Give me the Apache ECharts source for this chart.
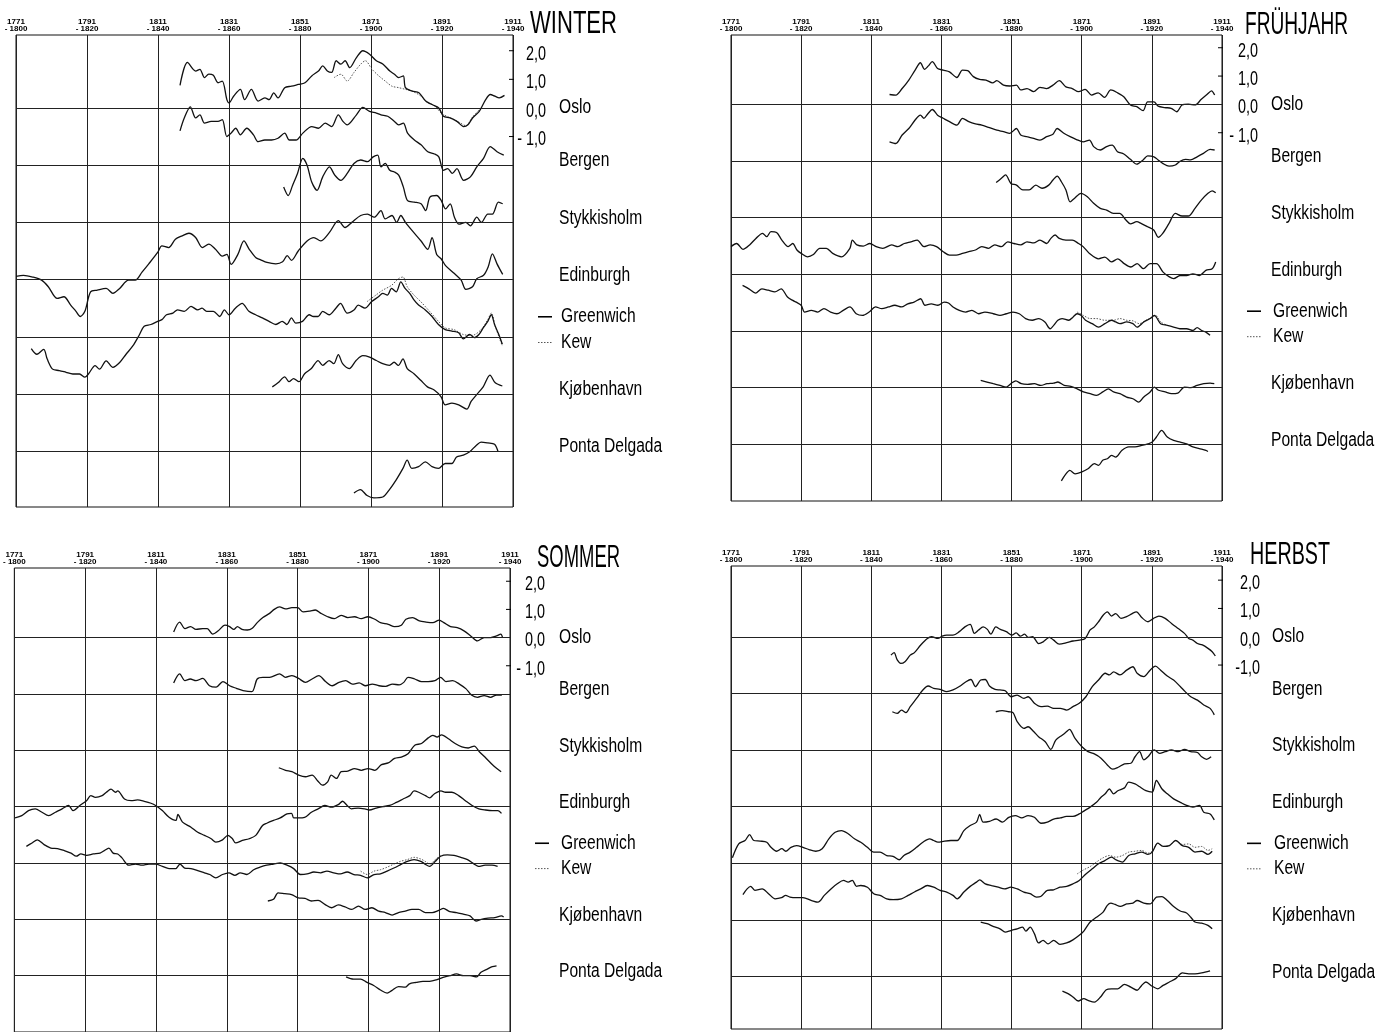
<!DOCTYPE html>
<html><head><meta charset="utf-8">
<script src="https://cdn.jsdelivr.net/npm/echarts@6/dist/echarts.min.js"></script>
<style>html,body{margin:0;padding:0;background:#fff}#c{width:1375px;height:1032px}</style>
</head><body><div id="c"></div>
<script>
// ---------- axis / labels ----------
const periodStarts = [1771, 1791, 1811, 1831, 1851, 1871, 1891, 1911];
const periodLen = 29;
const seasonTitles = ['WINTER', 'FRÜHJAHR', 'SOMMER', 'HERBST'];
const stationNames = ['Oslo', 'Bergen', 'Stykkisholm', 'Edinburgh', 'Greenwich', 'Kew', 'Kjøbenhavn', 'Ponta Delgada'];
const stationOffsets = [0, -2, -4, -6, -8, -8, -10, -12];   // baseline of each station (°C shift)
const baselineValues = [0, -2, -4, -6, -8, -10, -12];
const scaleTicks = [2, 1, 0, -1];

// ---------- WINTER ----------
const winterOslo = [[1817.2,0.79],[1819.3,1.59],[1821.6,1.29],[1822.8,1.35],[1824.1,1.06],[1825.3,1.18],[1826.6,1.14],[1827.9,0.88],[1829.1,0.94],[1830.4,0.29],[1831.0,0.18],[1832.3,0.41],[1834.2,0.65],[1835.4,0.29],[1837.3,0.65],[1839.2,0.24],[1841.1,0.35],[1842.3,0.29],[1843.6,0.53],[1844.8,0.35],[1846.7,0.71],[1848.6,0.76],[1850.5,0.82],[1852.4,0.88],[1854.3,1.12],[1856.2,1.29],[1857.4,1.47],[1858.7,1.29],[1859.9,1.24],[1861.2,1.65],[1862.5,1.53],[1863.7,1.65],[1865.0,1.41],[1866.9,1.76],[1868.7,2.0],[1870.6,1.88],[1872.5,1.65],[1874.4,1.53],[1876.3,1.29],[1877.6,1.18],[1878.8,1.06],[1880.1,1.12],[1880.7,0.71],[1882.6,0.59],[1884.5,0.53],[1886.4,0.24],[1888.2,0.12],[1890.1,0.0],[1891.4,-0.29],[1893.3,-0.35],[1895.2,-0.47],[1897.1,-0.65],[1898.3,-0.59],[1899.6,-0.35],[1901.5,-0.12],[1903.3,0.29],[1904.6,0.47],[1905.9,0.41],[1907.1,0.35],[1908.6,0.44]];
const winterOsloDotted = [[1860.6,1.06],[1862.5,1.18],[1864.3,0.94],[1866.2,1.24],[1868.1,1.53],[1869.4,1.65],[1871.3,1.35],[1873.2,1.12],[1875.0,0.94],[1876.9,0.76],[1878.8,0.71],[1880.7,0.65],[1882.6,0.59],[1885.1,0.41],[1887.0,0.18],[1888.9,0.08],[1890.8,-0.18],[1893.3,-0.35],[1895.8,-0.5],[1897.7,-0.62],[1899.6,-0.32],[1901.5,-0.06]];
const winterBergen = [[1817.2,1.2],[1818.4,1.65],[1820.1,2.04],[1821.6,1.65],[1822.8,1.76],[1824.1,1.47],[1826.0,1.53],[1827.9,1.53],[1829.1,1.59],[1830.4,1.0],[1831.6,1.12],[1832.9,1.29],[1834.2,1.06],[1836.0,1.29],[1837.9,1.06],[1839.2,0.82],[1841.1,0.88],[1843.0,0.88],[1844.8,0.94],[1846.7,1.12],[1848.0,0.88],[1849.9,0.88],[1851.8,1.12],[1854.3,1.35],[1856.2,1.29],[1858.1,1.47],[1859.9,1.35],[1861.8,1.76],[1863.1,1.53],[1864.3,1.41],[1866.9,1.76],[1868.7,2.02],[1870.6,1.88],[1872.5,1.82],[1873.8,1.76],[1875.7,1.71],[1877.6,1.53],[1878.8,1.41],[1880.1,1.47],[1881.3,1.12],[1883.2,0.88],[1885.1,0.71],[1887.0,0.47],[1888.9,0.39],[1890.1,0.29],[1891.4,-0.18],[1892.6,-0.12],[1893.9,-0.29],[1895.2,-0.12],[1897.1,-0.53],[1899.0,-0.41],[1900.8,-0.06],[1902.7,0.24],[1904.6,0.65],[1906.5,0.47],[1908.4,0.35]];
const winterStykkisholm = [[1846.4,1.24],[1847.7,0.94],[1848.9,1.29],[1850.3,1.71],[1851.8,2.24],[1853.0,2.0],[1854.3,1.41],[1855.8,1.12],[1857.4,1.59],[1859.3,1.94],[1860.8,1.65],[1862.5,1.47],[1864.3,1.71],[1866.2,2.06],[1868.1,2.18],[1870.0,2.12],[1871.6,2.29],[1872.9,2.35],[1873.8,1.94],[1875.0,2.06],[1876.3,1.82],[1877.6,1.76],[1878.8,1.65],[1880.1,1.24],[1881.3,0.76],[1883.2,0.71],[1885.1,0.65],[1886.4,0.41],[1887.6,0.88],[1889.5,0.94],[1890.8,0.76],[1892.0,0.47],[1893.3,0.65],[1894.5,0.18],[1895.8,-0.06],[1897.7,0.0],[1899.0,-0.12],[1900.8,0.18],[1902.1,0.0],[1903.9,0.29],[1905.2,0.29],[1906.9,0.71],[1908.1,0.65]];
const winterEdinburgh = [[1771.0,0.11],[1773.1,0.15],[1775.7,0.09],[1778.2,-0.02],[1780.1,-0.25],[1782.6,-0.66],[1784.5,-0.6],[1786.4,-0.89],[1787.9,-1.11],[1789.1,-1.29],[1790.4,-1.11],[1792.0,-0.43],[1793.9,-0.37],[1796.4,-0.31],[1798.3,-0.48],[1800.2,-0.31],[1802.7,-0.02],[1804.6,-0.02],[1806.5,0.26],[1808.4,0.55],[1810.9,0.95],[1812.1,1.18],[1814.0,1.12],[1815.9,1.41],[1817.8,1.53],[1819.7,1.62],[1821.6,1.47],[1823.5,1.12],[1825.3,1.24],[1827.2,1.06],[1829.1,0.82],[1830.4,0.88],[1831.6,0.53],[1833.5,0.88],[1835.2,1.35],[1836.7,1.06],[1838.6,0.76],[1839.8,0.7],[1841.7,0.6],[1844.2,0.55],[1846.1,0.62],[1847.4,0.84],[1848.6,0.67],[1850.5,1.0],[1853.0,1.35],[1854.9,1.47],[1856.8,1.35],[1859.3,1.65],[1861.8,2.06],[1863.7,1.82],[1865.6,2.0],[1868.1,2.24],[1870.0,2.29],[1871.9,2.18],[1873.8,2.41],[1875.0,2.12],[1876.9,2.24],[1878.2,2.0],[1879.4,2.24],[1880.7,2.0],[1882.6,1.71],[1885.1,1.35],[1887.0,1.06],[1888.2,1.47],[1889.5,0.88],[1890.8,0.72],[1892.0,0.49],[1894.5,0.21],[1896.4,-0.02],[1897.7,-0.34],[1899.6,-0.25],[1900.8,0.03],[1902.7,0.15],[1904.0,0.44],[1905.2,0.9],[1906.5,0.55],[1908.1,0.18]];
const winterGreenwich = [[1775.3,-0.41],[1776.9,-0.61],[1778.8,-0.44],[1779.8,-0.78],[1781.3,-1.13],[1783.2,-1.18],[1785.1,-1.24],[1787.0,-1.3],[1788.9,-1.3],[1790.4,-1.41],[1791.4,-1.3],[1793.3,-1.01],[1794.5,-1.13],[1796.4,-0.84],[1798.3,-1.07],[1800.2,-0.9],[1802.0,-0.61],[1803.9,-0.32],[1805.8,0.08],[1807.1,0.37],[1809.0,0.43],[1810.9,0.54],[1812.1,0.6],[1813.4,0.77],[1815.2,0.83],[1816.5,0.94],[1818.4,0.89],[1820.3,1.06],[1822.2,0.94],[1823.4,1.0],[1824.7,0.89],[1826.6,0.89],[1828.4,0.71],[1829.7,0.94],[1831.0,0.77],[1832.8,1.0],[1834.7,1.17],[1836.6,0.89],[1838.5,0.77],[1840.4,0.66],[1842.3,0.54],[1844.2,0.43],[1846.0,0.54],[1847.3,0.43],[1848.6,0.66],[1849.8,0.48],[1851.7,0.54],[1853.6,0.77],[1854.8,0.71],[1856.1,0.71],[1857.4,0.89],[1859.2,0.77],[1861.1,1.0],[1862.4,1.17],[1864.3,0.83],[1866.2,0.94],[1867.4,1.11],[1869.3,1.0],[1871.2,1.23],[1873.1,1.4],[1874.3,1.52],[1875.6,1.46],[1876.8,1.69],[1878.1,1.57],[1879.4,1.92],[1880.6,1.69],[1881.9,1.52],[1883.1,1.29],[1884.4,1.11],[1886.3,0.94],[1888.2,0.71],[1890.0,0.43],[1891.9,0.25],[1893.8,0.2],[1895.7,0.14],[1897.0,-0.07],[1898.8,0.08],[1900.1,-0.03],[1901.4,0.08],[1902.6,0.31],[1903.9,0.54],[1904.9,0.77],[1905.8,0.43],[1907.0,0.08],[1908.0,-0.26]];
const winterKew = [[1869.9,1.23],[1872.4,1.46],[1874.3,1.63],[1876.8,1.8],[1878.7,2.03],[1880.0,2.09],[1881.2,1.75],[1883.1,1.46],[1885.0,1.23],[1887.5,0.89],[1890.0,0.54],[1891.9,0.31],[1894.4,0.25],[1897.0,0.08],[1899.5,0.05],[1902.0,0.25],[1903.9,0.6],[1904.9,0.83],[1906.0,0.37],[1907.3,-0.09],[1908.0,-0.32]];
const winterKjobenhavn = [[1843.2,0.25],[1844.8,0.39],[1846.7,0.6],[1847.9,0.43],[1849.2,0.54],[1850.7,0.43],[1852.3,0.71],[1854.2,0.89],[1856.1,1.17],[1857.4,1.0],[1859.2,1.17],[1860.5,1.06],[1861.8,1.38],[1863.0,1.06],[1864.9,0.89],[1866.8,1.17],[1868.7,1.34],[1870.6,1.29],[1872.5,1.17],[1874.3,1.06],[1876.2,1.0],[1877.5,1.11],[1878.7,1.0],[1880.0,1.23],[1881.2,0.89],[1883.1,0.71],[1885.0,0.48],[1886.9,0.25],[1888.8,0.14],[1890.7,-0.09],[1891.9,-0.38],[1893.8,-0.32],[1895.7,-0.38],[1898.0,-0.53],[1899.2,-0.26],[1900.7,-0.03],[1902.6,0.25],[1904.5,0.66],[1906.0,0.39],[1908.0,0.28]];
const winterPontaDelgada = [[1866.2,-1.46],[1868.0,-1.34],[1869.9,-1.55],[1871.8,-1.63],[1874.3,-1.6],[1876.2,-1.34],[1878.1,-1.0],[1880.0,-0.6],[1881.2,-0.31],[1882.5,-0.6],[1884.4,-0.54],[1886.3,-0.37],[1888.2,-0.54],[1890.0,-0.6],[1891.9,-0.43],[1893.8,-0.43],[1895.1,-0.2],[1897.0,-0.14],[1898.8,-0.02],[1900.7,0.21],[1902.0,0.32],[1903.9,0.29],[1905.8,0.24],[1906.8,-0.02]];

// ---------- FRÜHJAHR ----------
const springOslo = [[1816.2,0.35],[1818.0,0.33],[1819.8,0.56],[1821.7,0.86],[1823.5,1.21],[1825.0,1.47],[1826.2,1.24],[1827.2,1.35],[1828.4,1.51],[1829.9,1.27],[1831.5,1.21],[1833.3,1.15],[1835.4,0.95],[1837.0,1.21],[1838.5,1.19],[1840.1,0.98],[1841.9,0.88],[1843.7,0.86],[1845.6,0.76],[1846.8,0.84],[1848.7,0.68],[1850.5,0.65],[1852.4,0.68],[1853.6,0.51],[1855.4,0.56],[1857.3,0.45],[1859.1,0.6],[1861.0,0.56],[1862.8,0.68],[1864.6,0.84],[1866.5,0.62],[1868.3,0.56],[1870.1,0.45],[1872.0,0.53],[1873.8,0.33],[1875.7,0.41],[1877.5,0.25],[1879.3,0.51],[1881.2,0.41],[1883.0,0.27],[1884.9,-0.02],[1886.7,-0.08],[1888.5,-0.22],[1889.8,0.09],[1891.6,0.09],[1892.8,-0.06],[1894.7,-0.11],[1896.5,-0.14],[1898.1,-0.26],[1899.6,-0.02],[1901.4,0.01],[1903.3,-0.02],[1905.1,0.18],[1906.7,0.35],[1908.0,0.48],[1908.9,0.33]];
const springBergen = [[1816.2,0.68],[1818.0,0.62],[1819.8,0.92],[1821.7,1.15],[1823.5,1.45],[1825.0,1.62],[1826.0,1.51],[1827.2,1.68],[1828.4,1.82],[1829.9,1.62],[1831.5,1.51],[1833.3,1.39],[1835.4,1.27],[1837.0,1.51],[1838.8,1.39],[1840.7,1.31],[1842.5,1.27],[1844.4,1.19],[1846.8,1.09],[1848.7,1.04],[1850.5,0.98],[1852.4,1.15],[1853.6,0.92],[1855.4,0.86],[1857.3,0.8],[1859.1,0.74],[1861.0,0.86],[1862.8,0.95],[1864.0,1.15],[1865.9,0.98],[1867.7,0.86],[1869.5,0.76],[1871.4,0.68],[1873.2,0.74],[1874.4,0.51],[1876.3,0.39],[1878.1,0.51],[1879.7,0.56],[1881.2,0.33],[1883.0,0.25],[1884.9,0.06],[1886.7,-0.11],[1888.5,0.04],[1889.8,0.18],[1891.6,0.15],[1892.8,0.04],[1894.1,-0.08],[1895.9,-0.18],[1897.7,-0.14],[1898.9,-0.02],[1900.6,0.06],[1902.0,0.04],[1903.9,0.15],[1905.7,0.27],[1907.6,0.41],[1908.9,0.39]];
const springStykkisholm = [[1846.6,1.24],[1848.1,1.39],[1849.3,1.51],[1850.8,1.21],[1852.4,1.15],[1854.2,0.98],[1856.0,0.98],[1857.9,1.15],[1859.7,1.04],[1861.6,1.15],[1862.8,1.33],[1864.0,1.47],[1865.2,1.27],[1866.5,0.98],[1867.7,0.56],[1868.9,0.68],[1870.8,0.86],[1872.6,0.74],[1874.4,0.51],[1876.3,0.33],[1878.1,0.27],[1880.0,0.15],[1881.8,0.15],[1883.6,-0.08],[1884.9,-0.22],[1886.7,-0.14],[1887.9,-0.2],[1889.8,-0.32],[1891.6,-0.44],[1892.8,-0.69],[1894.1,-0.55],[1895.9,-0.2],[1897.7,0.15],[1899.6,0.06],[1901.4,0.06],[1903.3,0.33],[1905.1,0.62],[1907.0,0.86],[1908.2,0.95],[1909.2,0.88]];
const springEdinburgh = [[1771.0,0.98],[1772.6,1.09],[1774.4,0.88],[1776.3,1.04],[1778.1,1.27],[1780.0,1.45],[1781.2,1.33],[1782.4,1.51],[1784.0,1.48],[1785.5,1.21],[1787.3,0.98],[1788.6,1.09],[1789.8,0.86],[1791.0,0.74],[1792.8,0.62],[1794.5,0.7],[1796.3,0.92],[1798.2,0.92],[1800.0,0.74],[1802.5,0.62],[1804.9,0.92],[1805.6,1.21],[1806.9,1.04],[1808.7,1.0],[1810.6,1.09],[1812.4,0.98],[1814.3,0.92],[1816.8,1.04],[1818.6,0.98],[1820.4,1.09],[1822.3,1.15],[1824.1,1.21],[1826.0,0.98],[1827.8,1.04],[1829.6,0.98],[1831.5,0.8],[1833.3,0.68],[1835.2,0.68],[1837.0,0.74],[1838.8,0.8],[1840.7,0.86],[1842.5,0.98],[1844.4,0.92],[1846.2,1.04],[1848.1,0.98],[1849.9,1.15],[1851.7,1.09],[1853.6,1.04],[1855.4,1.15],[1857.3,1.11],[1859.1,1.21],[1861.0,1.09],[1862.2,1.27],[1863.4,1.39],[1864.6,1.27],[1866.5,1.21],[1868.3,1.21],[1870.1,1.09],[1871.4,0.98],[1873.2,0.74],[1875.8,0.55],[1877.6,0.61],[1879.5,0.44],[1881.3,0.55],[1883.1,0.38],[1885.0,0.26],[1886.8,0.38],[1888.6,0.2],[1890.5,0.38],[1892.3,0.38],[1894.2,0.08],[1896.0,-0.09],[1897.2,-0.15],[1899.1,-0.04],[1900.9,-0.04],[1902.7,0.02],[1904.6,-0.04],[1906.4,0.14],[1908.2,0.2],[1909.2,0.44]];
const springGreenwich = [[1774.3,1.61],[1776.1,1.49],[1778.0,1.34],[1779.8,1.49],[1781.6,1.44],[1783.5,1.38],[1785.3,1.49],[1787.1,1.2],[1788.6,1.08],[1789.6,1.02],[1791.0,0.91],[1792.0,0.67],[1793.9,0.73],[1795.7,0.67],[1797.5,0.79],[1799.4,0.67],[1801.2,0.61],[1803.0,0.73],[1804.9,0.85],[1806.7,0.61],[1808.5,0.55],[1810.4,0.67],[1812.2,0.85],[1814.0,0.79],[1815.9,0.85],[1817.7,0.91],[1819.6,0.85],[1821.4,0.96],[1823.2,1.02],[1825.1,1.14],[1826.3,0.91],[1828.1,0.96],[1830.0,0.91],[1831.8,1.02],[1833.0,0.99],[1834.3,0.85],[1836.1,0.73],[1837.9,0.67],[1839.7,0.73],[1841.6,0.61],[1843.4,0.67],[1845.8,0.61],[1847.7,0.55],[1849.5,0.61],[1851.4,0.67],[1853.2,0.61],[1855.0,0.44],[1856.9,0.38],[1858.7,0.44],[1860.5,0.32],[1862.0,0.08],[1863.0,0.2],[1864.2,0.38],[1865.4,0.44],[1867.3,0.38],[1868.5,0.49],[1869.7,0.61],[1870.9,0.55],[1872.1,0.38],[1874.0,0.26],[1875.8,0.14],[1877.6,0.26],[1879.5,0.38],[1880.7,0.32],[1881.9,0.26],[1883.8,0.32],[1885.6,0.26],[1886.8,0.14],[1888.7,0.32],[1890.5,0.44],[1891.7,0.55],[1893.5,0.26],[1895.4,0.2],[1897.2,0.14],[1899.0,0.08],[1900.9,0.08],[1902.7,0.02],[1903.9,0.12],[1905.2,0.02],[1906.4,-0.04],[1907.6,-0.15]];
const springKew = [[1869.7,0.67],[1871.5,0.55],[1873.4,0.44],[1875.2,0.44],[1877.6,0.38],[1880.1,0.38],[1881.9,0.44],[1883.8,0.38],[1885.6,0.36],[1887.4,0.26],[1889.3,0.38],[1891.1,0.49],[1892.1,0.55],[1893.5,0.32],[1895.4,0.2]];
const springKjobenhavn = [[1842.2,0.26],[1844.0,0.2],[1845.8,0.14],[1847.7,0.08],[1849.5,0.02],[1851.0,0.16],[1852.2,0.24],[1853.8,0.14],[1855.6,0.12],[1857.5,0.14],[1859.3,0.08],[1861.1,0.14],[1863.0,0.16],[1864.2,0.2],[1866.0,0.08],[1867.9,0.05],[1869.7,-0.04],[1871.5,-0.15],[1873.4,-0.21],[1875.2,-0.27],[1877.0,-0.15],[1878.6,-0.04],[1880.1,-0.15],[1881.9,-0.21],[1883.8,-0.33],[1885.6,-0.39],[1887.2,-0.51],[1888.7,-0.33],[1890.5,-0.15],[1891.7,0.02],[1892.9,-0.09],[1894.8,-0.15],[1896.6,-0.21],[1898.4,-0.19],[1900.3,0.02],[1902.1,0.0],[1903.9,0.08],[1905.8,0.14],[1907.6,0.16],[1908.8,0.14]];
const springPontaDelgada = [[1865.2,-1.29],[1866.4,-1.06],[1867.6,-0.92],[1869.1,-1.04],[1870.9,-0.98],[1872.8,-0.86],[1874.6,-0.68],[1875.8,-0.74],[1877.0,-0.56],[1878.3,-0.51],[1879.5,-0.39],[1880.7,-0.45],[1882.5,-0.21],[1884.4,-0.09],[1886.2,-0.09],[1888.1,-0.04],[1889.9,0.02],[1891.1,0.08],[1892.3,0.26],[1893.8,0.49],[1895.4,0.26],[1897.2,0.14],[1899.1,0.08],[1900.9,0.02],[1902.7,-0.09],[1904.5,-0.15],[1906.4,-0.21],[1907.0,-0.25]];

// ---------- SOMMER ----------
const summerOslo = [[1816.0,0.2],[1817.7,0.55],[1819.2,0.32],[1820.8,0.39],[1822.3,0.29],[1824.2,0.32],[1825.5,0.32],[1827.0,0.12],[1828.6,0.24],[1830.5,0.44],[1831.8,0.39],[1833.0,0.29],[1834.0,0.39],[1835.3,0.29],[1836.8,0.27],[1838.1,0.32],[1839.6,0.53],[1841.2,0.71],[1843.1,0.86],[1844.4,1.0],[1845.9,1.09],[1847.6,1.02],[1849.4,1.06],[1851.0,1.06],[1852.6,0.91],[1854.5,0.94],[1856.0,0.98],[1857.6,0.86],[1859.5,0.74],[1861.4,0.67],[1863.3,0.79],[1865.2,0.71],[1867.1,0.74],[1869.0,0.67],[1870.9,0.74],[1872.8,0.65],[1874.4,0.53],[1876.6,0.47],[1878.4,0.39],[1880.3,0.44],[1881.6,0.65],[1883.5,0.71],[1885.4,0.59],[1887.3,0.55],[1889.2,0.53],[1891.0,0.62],[1892.3,0.53],[1894.2,0.39],[1896.1,0.35],[1898.0,0.24],[1899.9,0.06],[1901.8,-0.12],[1903.7,0.0],[1905.5,0.0],[1907.2,0.06],[1908.4,0.12],[1908.9,0.0]];
const summerBergen = [[1816.0,0.39],[1817.7,0.71],[1819.2,0.47],[1820.7,0.53],[1822.3,0.47],[1824.2,0.55],[1826.1,0.29],[1828.0,0.24],[1829.9,0.44],[1831.8,0.29],[1833.7,0.2],[1835.6,0.12],[1838.1,0.08],[1839.6,0.53],[1841.2,0.59],[1843.1,0.59],[1845.9,0.71],[1847.6,0.59],[1849.4,0.65],[1851.3,0.55],[1853.2,0.41],[1855.1,0.53],[1857.0,0.65],[1858.9,0.44],[1860.8,0.29],[1862.7,0.41],[1864.6,0.47],[1866.5,0.35],[1868.4,0.39],[1870.2,0.29],[1872.1,0.35],[1874.0,0.29],[1875.9,0.27],[1877.8,0.35],[1879.7,0.32],[1881.0,0.41],[1882.2,0.59],[1884.1,0.53],[1886.0,0.44],[1887.9,0.44],[1889.8,0.47],[1891.4,0.59],[1892.9,0.44],[1894.8,0.47],[1896.7,0.35],[1898.6,0.18],[1900.1,-0.04],[1901.8,-0.12],[1903.7,-0.06],[1905.5,-0.12],[1907.2,-0.04],[1908.7,-0.04]];
const summerStykkisholm = [[1845.7,-0.62],[1847.6,-0.71],[1849.4,-0.76],[1851.3,-0.88],[1853.2,-0.94],[1855.1,-0.88],[1856.7,-1.09],[1858.0,-1.24],[1859.5,-1.12],[1860.5,-0.88],[1862.0,-1.0],[1863.3,-0.76],[1865.2,-0.74],[1867.1,-0.65],[1869.0,-0.71],[1870.9,-0.65],[1872.8,-0.71],[1874.7,-0.51],[1876.6,-0.45],[1878.4,-0.29],[1880.3,-0.24],[1882.2,-0.12],[1884.1,0.18],[1886.0,0.24],[1887.9,0.44],[1889.2,0.53],[1890.4,0.47],[1891.7,0.55],[1893.6,0.41],[1895.5,0.24],[1897.4,0.12],[1899.2,0.08],[1900.9,0.15],[1902.4,-0.06],[1904.3,-0.29],[1906.2,-0.53],[1908.5,-0.76]];
const summerEdinburgh = [[1771.2,-0.4],[1773.1,-0.32],[1775.0,-0.14],[1776.9,-0.08],[1778.8,-0.2],[1780.7,-0.32],[1782.6,-0.2],[1784.5,-0.08],[1786.3,0.04],[1787.6,-0.14],[1789.5,0.04],[1791.4,0.21],[1792.6,0.39],[1793.9,0.33],[1795.8,0.39],[1797.0,0.51],[1798.3,0.62],[1799.6,0.51],[1800.2,0.56],[1802.1,0.27],[1804.0,0.21],[1805.8,0.24],[1807.7,0.19],[1809.6,0.12],[1810.9,0.04],[1812.8,-0.14],[1814.7,-0.38],[1816.6,-0.49],[1817.2,-0.28],[1818.5,-0.55],[1820.9,-0.73],[1822.8,-0.91],[1824.7,-1.02],[1826.6,-1.14],[1827.9,-1.26],[1829.8,-1.18],[1831.3,-1.02],[1832.6,-1.14],[1833.5,-1.29],[1835.4,-1.2],[1837.3,-1.14],[1839.2,-1.02],[1841.1,-0.67],[1842.3,-0.59],[1844.2,-0.49],[1846.1,-0.4],[1848.0,-0.26],[1849.3,-0.24],[1849.9,-0.4],[1851.2,-0.4],[1853.0,-0.38],[1854.9,-0.2],[1856.8,-0.08],[1858.7,0.04],[1860.6,-0.02],[1862.5,0.07],[1863.7,0.19],[1865.0,0.04],[1866.2,-0.08],[1868.1,-0.05],[1870.0,-0.08],[1871.3,-0.12],[1873.2,-0.05],[1875.1,0.0],[1877.0,0.04],[1878.9,0.15],[1880.8,0.27],[1882.7,0.39],[1883.9,0.56],[1885.2,0.51],[1887.1,0.39],[1888.3,0.31],[1889.6,0.45],[1891.5,0.56],[1892.8,0.51],[1894.6,0.51],[1896.5,0.39],[1898.4,0.21],[1900.3,0.04],[1902.2,-0.08],[1904.1,-0.12],[1906.0,-0.14],[1907.6,-0.14],[1908.6,-0.24]];
const summerGreenwich = [[1774.4,0.59],[1776.0,0.71],[1777.5,0.82],[1779.4,0.65],[1781.3,0.53],[1783.2,0.51],[1785.1,0.44],[1787.0,0.35],[1788.5,0.24],[1789.8,0.32],[1791.4,0.27],[1793.3,0.32],[1795.2,0.35],[1796.4,0.44],[1797.7,0.53],[1798.9,0.35],[1800.2,0.32],[1801.4,0.18],[1803.3,-0.08],[1805.2,-0.04],[1807.1,-0.08],[1809.0,-0.04],[1810.9,-0.04],[1812.8,-0.12],[1814.7,-0.2],[1816.6,-0.2],[1817.8,-0.04],[1819.1,-0.18],[1820.9,-0.2],[1822.8,-0.27],[1824.7,-0.35],[1826.2,-0.41],[1827.9,-0.53],[1829.8,-0.41],[1831.6,-0.35],[1833.3,-0.44],[1834.8,-0.35],[1836.7,-0.41],[1838.6,-0.24],[1840.4,-0.15],[1842.3,-0.08],[1844.2,-0.04],[1846.1,0.0],[1848.0,-0.08],[1849.9,-0.2],[1851.8,-0.41],[1853.7,-0.39],[1855.6,-0.32],[1857.5,-0.35],[1859.3,-0.29],[1861.2,-0.35],[1863.1,-0.39],[1865.0,-0.32],[1866.9,-0.41],[1868.8,-0.44],[1870.7,-0.53],[1872.6,-0.41],[1874.4,-0.39],[1876.3,-0.29],[1878.2,-0.18],[1880.1,-0.06],[1882.0,0.06],[1883.9,0.12],[1885.8,0.06],[1887.0,-0.04],[1888.3,-0.12],[1889.9,0.06],[1891.4,0.24],[1893.3,0.29],[1895.2,0.27],[1897.1,0.2],[1899.0,0.12],[1900.9,-0.04],[1902.1,-0.12],[1904.0,-0.08],[1905.9,-0.08],[1907.5,-0.12]];
const summerKew = [[1868.8,-0.29],[1870.7,-0.41],[1872.6,-0.29],[1874.4,-0.24],[1876.3,-0.15],[1878.2,-0.04],[1880.1,0.06],[1882.0,0.12],[1883.9,0.2],[1885.8,0.14],[1887.0,0.06],[1888.3,-0.04],[1889.9,0.12],[1891.4,0.27]];
const summerKjobenhavn = [[1842.6,0.65],[1844.2,0.71],[1845.5,0.94],[1847.4,0.91],[1849.3,0.88],[1851.2,0.76],[1853.1,0.74],[1854.9,0.65],[1856.8,0.67],[1858.7,0.53],[1860.6,0.41],[1862.5,0.51],[1864.4,0.44],[1866.3,0.35],[1868.2,0.47],[1870.1,0.35],[1872.0,0.41],[1873.9,0.29],[1875.8,0.24],[1877.7,0.15],[1879.5,0.24],[1881.4,0.29],[1883.3,0.35],[1885.2,0.35],[1887.1,0.24],[1889.0,0.24],[1890.9,0.32],[1892.2,0.39],[1894.0,0.27],[1895.9,0.24],[1897.8,0.18],[1899.7,0.12],[1901.4,-0.06],[1902.9,0.0],[1904.8,0.04],[1906.7,0.06],[1908.6,0.12],[1909.2,0.08]];
const summerPontaDelgada = [[1864.7,-0.04],[1866.8,-0.12],[1868.8,-0.12],[1870.6,-0.24],[1872.5,-0.35],[1874.4,-0.51],[1876.3,-0.62],[1877.6,-0.53],[1879.5,-0.39],[1881.4,-0.41],[1882.6,-0.29],[1884.5,-0.24],[1886.4,-0.2],[1888.3,-0.2],[1890.2,-0.15],[1892.1,-0.06],[1894.0,0.0],[1895.9,0.06],[1897.8,0.0],[1899.7,0.0],[1901.6,-0.04],[1902.8,0.12],[1904.7,0.24],[1906.0,0.32],[1907.2,0.35]];

// ---------- HERBST ----------
const autumnOslo = [[1816.6,-0.65],[1817.5,-0.56],[1818.4,-0.82],[1819.4,-0.94],[1820.6,-0.88],[1822.1,-0.65],[1823.3,-0.56],[1825.1,-0.29],[1827.0,-0.06],[1828.2,0.0],[1830.0,-0.06],[1831.2,0.02],[1832.5,0.06],[1834.3,0.06],[1836.1,0.18],[1837.7,0.35],[1839.2,0.44],[1840.4,0.12],[1841.6,0.24],[1842.9,0.35],[1844.1,0.26],[1845.1,0.09],[1846.5,0.35],[1847.8,0.26],[1849.5,0.18],[1851.1,0.06],[1852.3,0.14],[1853.5,0.02],[1854.7,0.09],[1855.7,-0.02],[1857.0,0.0],[1858.7,-0.24],[1860.0,-0.18],[1861.8,-0.02],[1863.0,-0.12],[1864.6,-0.26],[1866.7,-0.21],[1868.5,-0.15],[1870.3,-0.12],[1872.0,-0.06],[1873.4,0.24],[1874.6,0.35],[1875.8,0.53],[1877.1,0.76],[1878.3,0.88],[1879.5,0.73],[1880.7,0.82],[1882.2,0.65],[1883.8,0.71],[1885.4,0.82],[1886.6,0.88],[1888.1,0.68],[1889.9,0.53],[1891.5,0.65],[1893.0,0.73],[1894.8,0.65],[1896.6,0.47],[1898.5,0.29],[1900.3,0.12],[1901.5,-0.06],[1902.7,-0.12],[1904.0,-0.24],[1905.4,-0.29],[1907.0,-0.41],[1908.2,-0.53],[1909.1,-0.68]];
const autumnBergen = [[1817.0,-0.65],[1818.4,-0.71],[1819.6,-0.59],[1820.9,-0.68],[1822.1,-0.47],[1823.9,-0.18],[1825.7,0.12],[1827.2,0.26],[1828.8,0.18],[1830.6,0.14],[1832.5,0.06],[1834.3,0.12],[1836.1,0.24],[1838.0,0.41],[1839.4,0.49],[1840.7,0.24],[1842.2,0.47],[1843.5,0.49],[1844.7,0.26],[1846.3,0.14],[1847.7,0.12],[1849.2,0.09],[1850.9,-0.12],[1852.6,-0.06],[1854.5,-0.18],[1855.7,-0.12],[1857.5,-0.35],[1859.4,-0.47],[1861.2,-0.45],[1863.0,-0.53],[1864.9,-0.53],[1866.7,-0.59],[1868.5,-0.47],[1870.3,-0.35],[1872.2,-0.12],[1874.0,0.24],[1875.8,0.47],[1877.7,0.71],[1878.9,0.65],[1880.1,0.76],[1881.9,0.65],[1883.8,0.82],[1885.6,0.94],[1886.8,0.71],[1888.7,0.59],[1890.5,0.82],[1892.0,0.96],[1893.5,0.82],[1895.4,0.61],[1897.2,0.47],[1899.1,0.24],[1900.5,0.06],[1902.1,-0.12],[1904.0,-0.24],[1905.8,-0.41],[1907.6,-0.53],[1908.8,-0.76]];
const autumnStykkisholm = [[1846.5,1.35],[1848.3,1.39],[1850.2,1.35],[1851.4,1.32],[1852.6,1.0],[1854.5,0.76],[1855.7,0.82],[1857.3,0.65],[1858.7,0.47],[1860.6,0.29],[1862.2,0.02],[1863.6,0.35],[1865.5,0.53],[1866.7,0.65],[1867.5,0.73],[1869.1,0.41],[1871.0,0.12],[1872.8,-0.06],[1874.6,-0.14],[1876.5,-0.29],[1878.3,-0.53],[1879.8,-0.68],[1881.4,-0.61],[1883.2,-0.49],[1885.0,-0.47],[1886.2,-0.24],[1887.5,-0.06],[1888.7,-0.35],[1889.9,-0.24],[1891.7,0.0],[1893.2,-0.12],[1894.8,-0.06],[1896.6,0.0],[1898.5,-0.06],[1900.3,0.02],[1902.1,-0.06],[1904.0,-0.09],[1905.2,-0.24],[1906.6,-0.33],[1907.9,-0.24]];
const autumnEdinburgh = [[1771.4,-1.81],[1773.2,-1.32],[1775.0,-1.2],[1776.3,-0.99],[1777.5,-1.2],[1779.3,-1.22],[1781.2,-1.26],[1782.4,-1.44],[1784.0,-1.58],[1785.5,-1.49],[1786.6,-1.58],[1788.1,-1.44],[1789.7,-1.38],[1791.5,-1.44],[1793.4,-1.53],[1795.2,-1.58],[1797.0,-1.49],[1798.9,-1.14],[1800.7,-0.91],[1802.5,-0.85],[1804.4,-0.96],[1806.2,-1.14],[1808.0,-1.26],[1809.9,-1.44],[1811.7,-1.61],[1813.5,-1.61],[1815.4,-1.73],[1817.2,-1.76],[1819.0,-1.88],[1820.3,-1.73],[1822.1,-1.61],[1823.9,-1.44],[1825.7,-1.26],[1827.6,-1.14],[1828.8,-1.2],[1830.0,-1.26],[1831.9,-1.22],[1833.7,-1.2],[1835.5,-1.2],[1837.4,-0.85],[1839.2,-0.67],[1841.0,-0.55],[1841.9,-0.28],[1842.9,-0.55],[1844.7,-0.52],[1846.6,-0.44],[1848.4,-0.55],[1850.2,-0.38],[1852.1,-0.32],[1853.9,-0.4],[1855.7,-0.32],[1857.5,-0.38],[1859.4,-0.59],[1861.2,-0.55],[1863.0,-0.44],[1864.9,-0.4],[1866.7,-0.35],[1868.5,-0.35],[1870.3,-0.26],[1871.6,-0.16],[1873.4,-0.02],[1875.2,0.15],[1876.5,0.33],[1877.7,0.45],[1878.9,0.62],[1880.1,0.45],[1881.3,0.56],[1883.2,0.66],[1884.4,0.86],[1886.2,0.8],[1887.4,0.71],[1889.3,0.56],[1891.1,0.51],[1892.3,0.92],[1893.9,0.62],[1895.4,0.45],[1897.2,0.27],[1899.1,0.15],[1900.9,0.04],[1902.7,-0.02],[1904.6,0.04],[1905.8,-0.2],[1907.6,-0.26],[1908.8,-0.47]];
const autumnGreenwich = [[1774.4,-1.11],[1775.6,-0.91],[1776.6,-0.82],[1777.8,-0.96],[1779.9,-0.91],[1781.7,-1.08],[1783.6,-1.26],[1785.4,-1.22],[1786.6,-1.14],[1787.8,-1.2],[1789.7,-1.22],[1791.5,-1.22],[1794.0,-1.32],[1795.8,-1.38],[1797.6,-1.14],[1799.5,-0.91],[1801.3,-0.73],[1803.1,-0.61],[1804.4,-0.67],[1805.6,-0.61],[1806.8,-0.82],[1808.0,-0.79],[1809.9,-0.85],[1811.7,-1.08],[1813.5,-1.14],[1815.4,-1.26],[1817.2,-1.29],[1819.6,-1.26],[1821.5,-1.14],[1823.3,-1.02],[1825.1,-0.91],[1827.0,-0.79],[1828.8,-0.85],[1830.6,-0.96],[1832.5,-1.02],[1834.3,-1.14],[1835.5,-1.26],[1837.4,-1.02],[1839.2,-0.82],[1841.0,-0.67],[1841.9,-0.59],[1843.5,-0.73],[1845.3,-0.79],[1847.2,-0.85],[1849.0,-0.91],[1850.8,-0.85],[1852.6,-0.91],[1854.5,-1.02],[1856.3,-1.08],[1858.1,-1.2],[1859.3,-1.18],[1861.2,-0.96],[1863.0,-0.94],[1864.8,-0.85],[1866.7,-0.82],[1868.5,-0.73],[1870.3,-0.61],[1872.2,-0.38],[1874.0,-0.2],[1875.8,-0.02],[1877.6,0.09],[1879.5,0.21],[1880.7,0.12],[1882.6,0.04],[1884.4,0.27],[1886.2,0.33],[1888.1,0.39],[1889.9,0.31],[1891.1,0.39],[1892.7,0.71],[1894.2,0.59],[1896.0,0.62],[1897.8,0.8],[1899.7,0.62],[1901.5,0.56],[1903.3,0.39],[1905.2,0.42],[1907.0,0.31],[1908.2,0.42]];
const autumnKew = [[1869.7,-0.38],[1871.5,-0.24],[1873.4,-0.12],[1875.2,0.04],[1877.1,0.19],[1878.9,0.27],[1880.7,0.21],[1882.6,0.27],[1884.4,0.39],[1886.2,0.42],[1888.1,0.45],[1889.9,0.35],[1891.1,0.42],[1892.7,0.71],[1894.2,0.59],[1896.0,0.62],[1897.8,0.8],[1899.7,0.66],[1901.5,0.68],[1903.3,0.56],[1905.2,0.59],[1907.0,0.45],[1908.2,0.51]];
const autumnKjobenhavn = [[1842.2,-0.08],[1844.0,-0.14],[1845.9,-0.24],[1847.7,-0.32],[1849.2,-0.44],[1850.8,-0.38],[1852.6,-0.32],[1854.1,-0.26],[1855.1,-0.4],[1856.3,-0.26],[1857.5,-0.49],[1858.7,-0.82],[1860.0,-0.73],[1861.4,-0.85],[1863.0,-0.73],[1864.8,-0.87],[1866.7,-0.82],[1868.5,-0.71],[1870.3,-0.55],[1871.6,-0.4],[1873.4,-0.08],[1875.2,0.09],[1877.1,0.27],[1878.3,0.51],[1879.3,0.59],[1880.5,0.54],[1882.0,0.47],[1883.8,0.56],[1885.6,0.59],[1886.8,0.68],[1888.7,0.59],[1890.5,0.56],[1892.3,0.8],[1893.9,0.82],[1895.4,0.68],[1897.2,0.47],[1899.1,0.31],[1900.9,0.24],[1902.1,0.09],[1903.3,-0.08],[1905.2,-0.12],[1907.0,-0.2],[1908.2,-0.32]];
const autumnPontaDelgada = [[1865.5,-0.52],[1867.1,-0.61],[1868.5,-0.73],[1870.0,-0.87],[1871.6,-0.79],[1872.8,-0.85],[1874.6,-0.91],[1876.5,-0.71],[1878.0,-0.47],[1879.5,-0.44],[1881.3,-0.44],[1883.2,-0.28],[1885.0,-0.38],[1886.8,-0.49],[1888.1,-0.32],[1889.3,-0.2],[1891.1,-0.35],[1892.7,-0.44],[1894.2,-0.32],[1896.0,-0.2],[1897.8,-0.08],[1899.7,0.12],[1901.5,0.09],[1903.3,0.09],[1905.2,0.12],[1907.6,0.19]];

// ---------- build ----------
const FONT = "'Liberation Sans', 'DejaVu Sans', sans-serif";
const panels = [
  {title: seasonTitles[0], grid: {left: 16, top: 35, width: 497, height: 472}, yMin: -13.95, yMax: 2.55, neg: '- 1,0',
   titleX: 530, titleY: 24, titleW: 87, numDx: 33, nameDx: 46,
   curves: [winterOslo, winterBergen, winterStykkisholm, winterEdinburgh, winterGreenwich, winterKew, winterKjobenhavn, winterPontaDelgada],
   extraDotted: [[winterOsloDotted, 0]]},
  {title: seasonTitles[1], grid: {left: 731, top: 35, width: 491, height: 466}, yMin: -14, yMax: 2.45, neg: '- 1,0',
   titleX: 1245, titleY: 25, titleW: 103, numDx: 36, nameDx: 49,
   curves: [springOslo, springBergen, springStykkisholm, springEdinburgh, springGreenwich, springKew, springKjobenhavn, springPontaDelgada],
   extraDotted: []},
  {title: seasonTitles[2], grid: {left: 14, top: 568, width: 496, height: 467}, yMin: -14, yMax: 2.47, neg: '- 1,0',
   titleX: 537, titleY: 558, titleW: 83, numDx: 35, nameDx: 49,
   curves: [summerOslo, summerBergen, summerStykkisholm, summerEdinburgh, summerGreenwich, summerKew, summerKjobenhavn, summerPontaDelgada],
   extraDotted: []},
  {title: seasonTitles[3], grid: {left: 731, top: 566, width: 491, height: 463}, yMin: -13.86, yMax: 2.5, neg: '-1,0',
   titleX: 1250, titleY: 555, titleW: 80, numDx: 38, nameDx: 50,
   curves: [autumnOslo, autumnBergen, autumnStykkisholm, autumnEdinburgh, autumnGreenwich, autumnKew, autumnKjobenhavn, autumnPontaDelgada],
   extraDotted: []}
];

const grids = [], xAxes = [], yAxes = [], series = [];
panels.forEach((p, i) => {
  grids.push(Object.assign({show: true, borderColor: '#111', borderWidth: 1, backgroundColor: 'transparent'}, p.grid));
  xAxes.push({
    type: 'value', gridIndex: i, position: 'top', min: 0, max: 140, interval: 20,
    axisLine: {show: false}, axisTick: {show: false},
    splitLine: {show: true, lineStyle: {color: '#222', width: 1}},
    axisLabel: {
      show: true, margin: 3, color: '#000', fontSize: 8, lineHeight: 7, fontWeight: 'bold', fontFamily: FONT,
      showMinLabel: true, showMaxLabel: true,
      formatter: v => (periodStarts[0] + v) + '\n- ' + (periodStarts[0] + v + periodLen)
    }
  });
  yAxes.push({
    type: 'value', gridIndex: i, position: 'right', min: p.yMin, max: p.yMax,
    axisLine: {show: false}, splitLine: {show: false}, axisLabel: {show: false}, axisTick: {show: false}
  });
  p.curves.forEach((arr, k) => {
    const isKew = stationNames[k] === 'Kew';
    const s = {
      type: 'line', name: stationNames[k], xAxisIndex: i, yAxisIndex: i,
      data: arr.map(d => [d[0] - periodStarts[0], d[1] + stationOffsets[k]]),
      showSymbol: false, smooth: 0.3, silent: true, z: isKew ? 3 : 4,
      lineStyle: isKew ? {color: '#555', width: 1, type: [1.5, 1.5]} : {color: '#111', width: 1.3}
    };
    if (k === 0) {
      s.markLine = {silent: true, symbol: 'none', label: {show: false},
        lineStyle: {color: '#222', width: 1, type: 'solid'},
        data: baselineValues.map(v => ({yAxis: v}))};
    }
    series.push(s);
  });
  p.extraDotted.forEach(([arr, k]) => {
    series.push({type: 'line', xAxisIndex: i, yAxisIndex: i, silent: true, showSymbol: false, smooth: 0.3, z: 3,
      data: arr.map(d => [d[0] - periodStarts[0], d[1] + stationOffsets[k]]),
      lineStyle: {color: '#555', width: 1, type: [1.5, 1.5]}});
  });
});

const chart = echarts.init(document.getElementById('c'));
chart.setOption({animation: false, backgroundColor: '#fff', grid: grids, xAxis: xAxes, yAxis: yAxes, series: series});

// ---------- text (titles, scale numbers, station names) ----------
const ctx = document.createElement('canvas').getContext('2d');
function natW(text, size) { ctx.font = size + 'px ' + FONT; return ctx.measureText(text).width; }
const labelPos = [0, -1.85, -3.85, -5.85, -7.3, -8.2, -9.85, -11.85];
const graphics = [];
panels.forEach((p, i) => {
  const right = p.grid.left + p.grid.width;
  const py = v => chart.convertToPixel({gridIndex: i}, [0, v])[1];
  const tSize = 32;
  graphics.push({type: 'text', x: p.titleX, y: p.titleY, scaleX: p.titleW / natW(p.title, tSize),
    style: {text: p.title, x: 0, y: 0, fontSize: tSize, fontFamily: FONT, fill: '#000', textAlign: 'left', textVerticalAlign: 'middle'}});
  scaleTicks.forEach(v => {
    const txt = v === -1 ? p.neg : (v.toFixed(1).replace('.', ','));
    graphics.push({type: 'text', x: right + p.numDx, y: py(v - 0.12), scaleX: 0.72,
      style: {text: txt, x: 0, y: 0, fontSize: 20, fontFamily: FONT, fill: '#000', textAlign: 'right', textVerticalAlign: 'middle'}});
    if (v !== 0) {
      graphics.push({type: 'line', shape: {x1: right - 4, y1: py(v), x2: right + 1, y2: py(v)},
        style: {stroke: '#000', lineWidth: 1}});
    }
  });
  stationNames.forEach((name, k) => {
    const legend = (name === 'Greenwich' || name === 'Kew');
    graphics.push({type: 'text', x: right + p.nameDx + (legend ? 2 : 0), y: py(labelPos[k]), scaleX: 0.78,
      style: {text: name, x: 0, y: 0, fontSize: 20, fontFamily: FONT, fill: '#000', textAlign: 'left', textVerticalAlign: 'middle'}});
    if (legend) {
      graphics.push({type: 'line', shape: {x1: right + 25, y1: py(labelPos[k]), x2: right + 39, y2: py(labelPos[k])},
        style: name === 'Kew' ? {stroke: '#555', lineWidth: 1, lineDash: [1.5, 1.5]} : {stroke: '#000', lineWidth: 1.6}});
    }
  });
});
chart.setOption({graphic: graphics});
</script></body></html>
